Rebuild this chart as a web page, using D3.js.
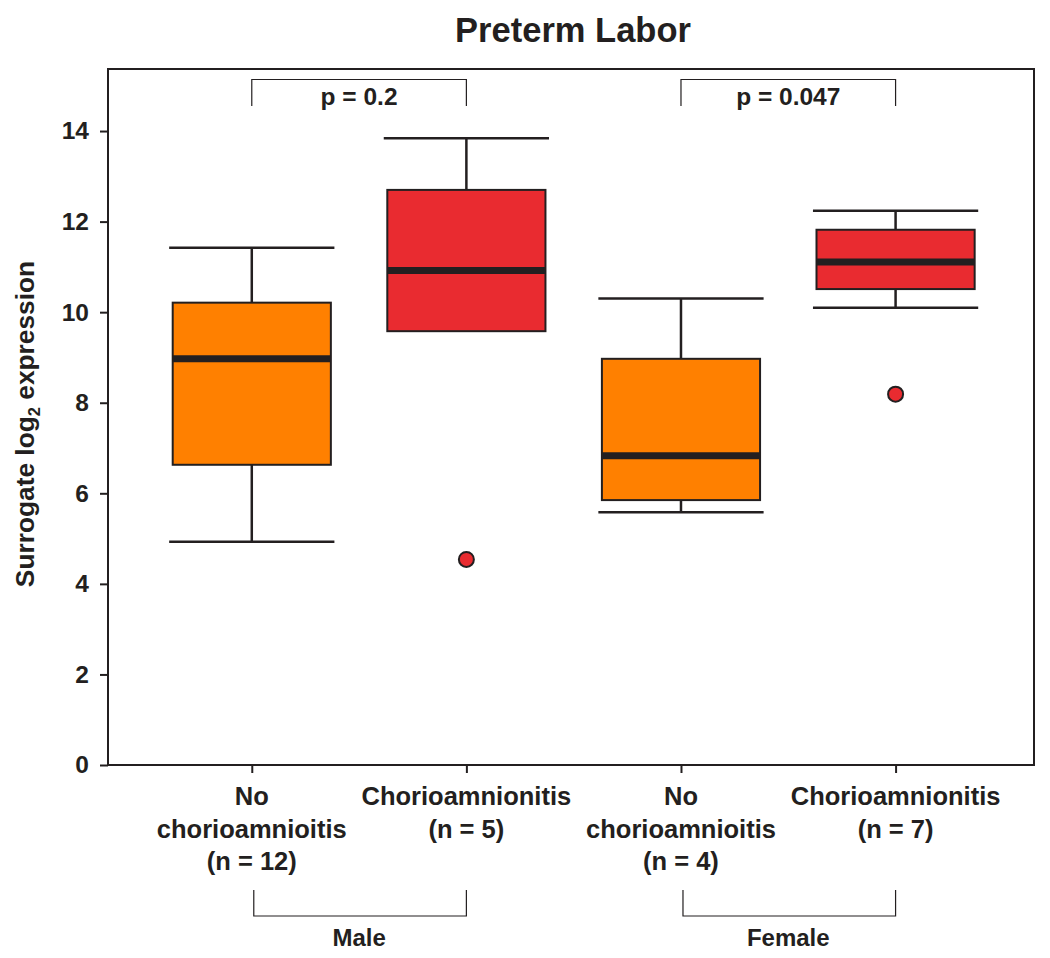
<!DOCTYPE html>
<html>
<head>
<meta charset="utf-8">
<script src="https://cdn.jsdelivr.net/npm/d3@7"></script>
<style>
  html, body { margin: 0; padding: 0; background: #fff; }
  svg { display: block; font-family: "Liberation Sans", Arial, sans-serif; font-weight: bold; }
</style>
</head>
<body>
<svg id="chart" width="1050" height="958"></svg>
<script>
// ---- data ----
const categories = ["No chorioamnioitis (n = 12)", "Chorioamnionitis (n = 5)", "No chorioamnioitis (n = 4)", "Chorioamnionitis (n = 7)"];
const labelLines = [["No", "chorioamnioitis", "(n = 12)"], ["Chorioamnionitis", "(n = 5)"], ["No", "chorioamnioitis", "(n = 4)"], ["Chorioamnionitis", "(n = 7)"]];
const groupType = ["none", "chorio", "none", "chorio"];
const whiskerLow = [4.93, 9.58, 5.58, 10.10];
const q1 = [6.63, 9.58, 5.85, 10.51];
const median = [8.97, 10.92, 6.83, 11.11];
const q3 = [10.21, 12.70, 8.97, 11.82];
const whiskerHigh = [11.42, 13.84, 10.30, 12.24];
const outliers = [[], [4.54], [], [8.19]];
const yTicks = [0, 2, 4, 6, 8, 10, 12, 14];
const pLabels = ["p = 0.2", "p = 0.047"];
const sexLabels = ["Male", "Female"];
const chartTitle = "Preterm Labor";

// ---- layout ----
const svg = d3.select("#chart");
const pLeft = 108, pRight = 1034, pTop = 69, pBottom = 765;
const x = d3.scaleLinear().domain([0.33, 4.645]).range([pLeft, pRight]);
const y = d3.scaleLinear().domain([0, 15.37]).range([pBottom, pTop]);
const boxW = x(1.737) - x(1);
const capW = x(1.385) - x(1);
const colors = { none: "#FF8000", chorio: "#E92B30" };
const ink = "#231F20";

// title
svg.append("text").attr("x", 573).attr("y", 42).attr("text-anchor", "middle")
  .attr("font-size", 34.5).attr("fill", ink).text(chartTitle);

// y axis label
svg.append("text").attr("transform", "translate(34,424) rotate(-90)")
  .attr("text-anchor", "middle").attr("font-size", 26.3).attr("fill", ink)
  .call(t => {
    t.append("tspan").text("Surrogate log");
    t.append("tspan").attr("font-size", 16.5).attr("dy", 6).text("2");
    t.append("tspan").attr("dy", -6).text(" expression");
  });

// frame
svg.append("rect").attr("x", pLeft).attr("y", pTop).attr("width", pRight - pLeft).attr("height", pBottom - pTop)
  .attr("fill", "none").attr("stroke", ink).attr("stroke-width", 2);

// y axis
const yAxis = svg.append("g").attr("transform", `translate(${pLeft},0)`)
  .call(d3.axisLeft(y).tickValues(yTicks).tickSize(8).tickPadding(11));
yAxis.select(".domain").remove();
yAxis.selectAll("line").attr("stroke", ink).attr("stroke-width", 2);
yAxis.selectAll("text").attr("font-size", 24.5).attr("font-family", "Liberation Sans, Arial, sans-serif")
  .attr("font-weight", "bold").attr("fill", ink);

// x axis ticks
const idx = [1, 2, 3, 4];
const xAxis = svg.append("g").attr("transform", `translate(0,${pBottom})`)
  .call(d3.axisBottom(x).tickValues(idx).tickSize(8).tickFormat(""));
xAxis.select(".domain").remove();
xAxis.selectAll("line").attr("stroke", ink).attr("stroke-width", 2);

// x labels
idx.forEach((v, i) => {
  const t = svg.append("text").attr("x", x(v)).attr("y", 805).attr("text-anchor", "middle")
    .attr("font-size", 25.5).attr("fill", ink);
  labelLines[i].forEach((ln, j) => {
    t.append("tspan").attr("x", x(v)).attr("y", 805 + j * 32.5).text(ln);
  });
});

// boxes
const g = svg.append("g");
idx.forEach((v, i) => {
  const cx = x(v);
  g.append("line").attr("x1", cx).attr("x2", cx).attr("y1", y(whiskerHigh[i])).attr("y2", y(q3[i]))
    .attr("stroke", ink).attr("stroke-width", 2.5);
  g.append("line").attr("x1", cx - capW).attr("x2", cx + capW).attr("y1", y(whiskerHigh[i])).attr("y2", y(whiskerHigh[i]))
    .attr("stroke", ink).attr("stroke-width", 2.5);
  if (whiskerLow[i] < q1[i]) {
    g.append("line").attr("x1", cx).attr("x2", cx).attr("y1", y(q1[i])).attr("y2", y(whiskerLow[i]))
      .attr("stroke", ink).attr("stroke-width", 2.5);
    g.append("line").attr("x1", cx - capW).attr("x2", cx + capW).attr("y1", y(whiskerLow[i])).attr("y2", y(whiskerLow[i]))
      .attr("stroke", ink).attr("stroke-width", 2.5);
  }
  g.append("rect").attr("x", cx - boxW / 2).attr("y", y(q3[i])).attr("width", boxW)
    .attr("height", y(q1[i]) - y(q3[i])).attr("fill", colors[groupType[i]])
    .attr("stroke", ink).attr("stroke-width", 2);
  g.append("line").attr("x1", cx - boxW / 2).attr("x2", cx + boxW / 2).attr("y1", y(median[i])).attr("y2", y(median[i]))
    .attr("stroke", ink).attr("stroke-width", 7);
  outliers[i].forEach(o => {
    g.append("circle").attr("cx", cx).attr("cy", y(o)).attr("r", 7.5)
      .attr("fill", colors[groupType[i]]).attr("stroke", ink).attr("stroke-width", 2);
  });
});

// brackets
[[1, 2], [3, 4]].forEach((pair, k) => {
  const x1 = x(pair[0]), x2 = x(pair[1]);
  svg.append("path").attr("d", `M${x1},106V79.5H${x2}V106`).attr("fill", "none")
    .attr("stroke", ink).attr("stroke-width", 1.2);
  svg.append("text").attr("x", (x1 + x2) / 2).attr("y", 105).attr("text-anchor", "middle")
    .attr("font-size", 24.5).attr("fill", ink).text(pLabels[k]);
  svg.append("path").attr("d", `M${x1 + 2},890V916H${x2}V890`).attr("fill", "none")
    .attr("stroke", ink).attr("stroke-width", 1.2);
  svg.append("text").attr("x", (x1 + x2) / 2).attr("y", 946).attr("text-anchor", "middle")
    .attr("font-size", 24).attr("fill", ink).text(sexLabels[k]);
});
</script>
</body>
</html>
